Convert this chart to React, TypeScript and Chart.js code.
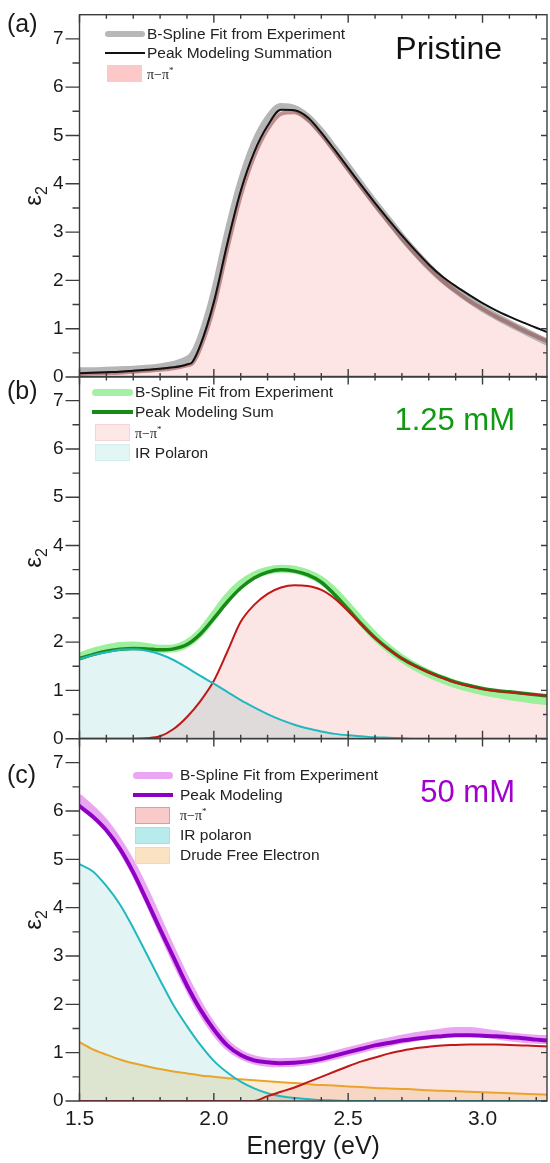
import React, { useEffect, useRef } from 'react';
import { Chart, registerables } from 'chart.js';

Chart.register(...registerables);

const FONT = "'Liberation Sans', Arial, sans-serif";
Chart.defaults.font.family = FONT;

const X_MIN = 1.5;
const X_MAX = 3.24;
const Y_MIN = 0;
const Y_MAX = 7.5;

const xTickLabels = ['1.5', '2.0', '2.5', '3.0'];
const yTickLabels = ['0', '1', '2', '3', '4', '5', '6', '7'];
const xTickPositions = [1.5, 1.6, 1.7, 1.8, 1.9, 2.0, 2.1, 2.2, 2.3, 2.4, 2.5, 2.6, 2.7, 2.8, 2.9, 3.0, 3.1, 3.2];
const yTickPositions = [0, 0.5, 1, 1.5, 2, 2.5, 3, 3.5, 4, 4.5, 5, 5.5, 6, 6.5, 7];

// ---------- Panel (a): Pristine ----------
const energyA = [1.5, 1.55, 1.6, 1.65, 1.7, 1.75, 1.8, 1.85, 1.9, 1.92, 1.95, 2.0, 2.05, 2.1, 2.15, 2.2, 2.25, 2.3, 2.35, 2.4, 2.45, 2.5, 2.55, 2.6, 2.65, 2.7, 2.75, 2.8, 2.85, 2.9, 2.95, 3.0, 3.05, 3.1, 3.15, 3.2, 3.24];
const bsplineA = [0.13, 0.13, 0.14, 0.15, 0.16, 0.18, 0.21, 0.26, 0.36, 0.45, 0.8, 1.72, 2.95, 4.02, 4.82, 5.34, 5.6, 5.56, 5.38, 5.08, 4.72, 4.35, 3.97, 3.6, 3.25, 2.9, 2.58, 2.28, 2.02, 1.8, 1.6, 1.42, 1.26, 1.11, 0.97, 0.83, 0.72];
const summationA = [0.08, 0.09, 0.1, 0.11, 0.13, 0.15, 0.17, 0.2, 0.26, 0.31, 0.66, 1.55, 2.76, 3.85, 4.65, 5.2, 5.53, 5.52, 5.37, 5.06, 4.7, 4.33, 3.96, 3.6, 3.26, 2.93, 2.62, 2.33, 2.08, 1.88, 1.7, 1.53, 1.38, 1.25, 1.13, 1.02, 0.93];
const piA = [0.06, 0.07, 0.08, 0.09, 0.11, 0.13, 0.15, 0.18, 0.24, 0.28, 0.6, 1.45, 2.65, 3.75, 4.57, 5.13, 5.45, 5.48, 5.32, 5.02, 4.66, 4.29, 3.92, 3.56, 3.21, 2.87, 2.55, 2.26, 2.0, 1.78, 1.58, 1.41, 1.25, 1.11, 0.97, 0.84, 0.74];

// ---------- Panels (b) and (c) share an energy grid ----------
const energyBC = [1.5, 1.55, 1.6, 1.65, 1.7, 1.75, 1.8, 1.85, 1.9, 1.95, 2.0, 2.05, 2.1, 2.15, 2.2, 2.25, 2.3, 2.35, 2.4, 2.45, 2.5, 2.55, 2.6, 2.65, 2.7, 2.75, 2.8, 2.85, 2.9, 2.95, 3.0, 3.05, 3.1, 3.15, 3.2, 3.24];

// (b) 1.25 mM
const bsplineB = [1.7, 1.8, 1.87, 1.92, 1.93, 1.9, 1.86, 1.87, 1.97, 2.2, 2.55, 2.92, 3.2, 3.38, 3.48, 3.52, 3.5, 3.42, 3.28, 3.04, 2.74, 2.42, 2.12, 1.87, 1.66, 1.49, 1.35, 1.23, 1.13, 1.05, 0.98, 0.93, 0.88, 0.84, 0.8, 0.78];
const sumB = [1.66, 1.74, 1.81, 1.85, 1.87, 1.86, 1.84, 1.86, 1.95, 2.17, 2.49, 2.83, 3.12, 3.33, 3.45, 3.5, 3.47, 3.39, 3.24, 2.98, 2.68, 2.37, 2.09, 1.86, 1.66, 1.51, 1.38, 1.27, 1.17, 1.1, 1.04, 1.0, 0.97, 0.94, 0.91, 0.89];
const piB = [0, 0, 0, 0, 0, 0.01, 0.05, 0.2, 0.45, 0.78, 1.2, 1.8, 2.42, 2.77, 3.0, 3.13, 3.18, 3.16, 3.08, 2.9, 2.64, 2.36, 2.08, 1.85, 1.66, 1.5, 1.37, 1.26, 1.16, 1.09, 1.03, 0.99, 0.96, 0.93, 0.91, 0.89];
const polaronB = [1.65, 1.73, 1.79, 1.84, 1.85, 1.82, 1.75, 1.63, 1.47, 1.3, 1.14, 0.97, 0.8, 0.65, 0.51, 0.39, 0.29, 0.21, 0.15, 0.1, 0.07, 0.05, 0.03, 0.02, 0.01, 0, 0, 0, 0, 0, 0, 0, 0, 0, 0, 0];

// (c) 50 mM
const bsplineC = [6.25, 6.0, 5.7, 5.3, 4.82, 4.25, 3.63, 3.02, 2.44, 1.92, 1.49, 1.16, 0.96, 0.85, 0.8, 0.79, 0.8, 0.83, 0.88, 0.95, 1.02, 1.09, 1.16, 1.22, 1.28, 1.33, 1.37, 1.41, 1.44, 1.44, 1.41, 1.37, 1.33, 1.3, 1.28, 1.27];
const sumC = [6.1, 5.88, 5.6, 5.22, 4.73, 4.15, 3.55, 2.97, 2.39, 1.89, 1.48, 1.15, 0.95, 0.84, 0.8, 0.78, 0.79, 0.82, 0.87, 0.94, 1.01, 1.08, 1.15, 1.2, 1.25, 1.29, 1.32, 1.34, 1.36, 1.36, 1.35, 1.34, 1.32, 1.3, 1.27, 1.25];
const piC = [0, 0, 0, 0, 0, 0, 0, 0, 0, 0, 0, 0, 0, 0, 0.1, 0.19, 0.28, 0.39, 0.5, 0.61, 0.72, 0.82, 0.9, 0.98, 1.04, 1.09, 1.12, 1.15, 1.16, 1.17, 1.17, 1.17, 1.16, 1.15, 1.14, 1.13];
const polaronC = [4.9, 4.75, 4.45, 4.07, 3.58, 3.04, 2.5, 1.98, 1.55, 1.16, 0.83, 0.59, 0.4, 0.26, 0.16, 0.1, 0.06, 0.04, 0.02, 0.01, 0, 0, 0, 0, 0, 0, 0, 0, 0, 0, 0, 0, 0, 0, 0, 0];
const drudeC = [1.22, 1.07, 0.96, 0.86, 0.78, 0.72, 0.66, 0.61, 0.57, 0.53, 0.5, 0.47, 0.45, 0.43, 0.41, 0.39, 0.37, 0.35, 0.33, 0.32, 0.3, 0.29, 0.27, 0.26, 0.25, 0.24, 0.22, 0.21, 0.2, 0.19, 0.18, 0.17, 0.16, 0.15, 0.14, 0.13];

const AXIS_COLOR = '#3c3c3c';
const TEXT_COLOR = '#1a1a1a';

const zip = (xs: number[], ys: number[]) => xs.map((x, i) => ({ x, y: ys[i] }));

function series(label: string, xs: number[], ys: number[], color: string, width: number, fillColor?: string) {
  return {
    label,
    data: zip(xs, ys),
    borderColor: color,
    borderWidth: width,
    backgroundColor: fillColor ?? 'transparent',
    fill: fillColor ? 'origin' : false,
    pointRadius: 0,
    cubicInterpolationMode: 'monotone',
    borderCapStyle: 'round',
    borderJoinStyle: 'round',
  };
}

const near = (a: number, b: number) => Math.abs(a - b) < 1e-6;

// Fills are drawn by the filler plugin in its beforeDatasetsDraw hook (runs before this
// local plugin's hook). Multiply blending is active only while fills are painted.
const framePlugin = {
  id: 'frame',
  beforeDraw(chart: any) {
    const { ctx } = chart;
    ctx.save();
    ctx.globalCompositeOperation = 'multiply';
  },
  beforeDatasetsDraw(chart: any) {
    chart.ctx.restore();
  },
  afterDatasetsDraw(chart: any) {
    const { ctx, chartArea } = chart;
    const { left, right, top, bottom } = chartArea;
    const xs = chart.scales.x;
    const ys = chart.scales.y;
    ctx.save();
    ctx.strokeStyle = AXIS_COLOR;
    ctx.lineWidth = 1.4;
    ctx.strokeRect(left, top, right - left, bottom - top);
    ctx.beginPath();
    for (const v of xTickPositions) {
      const px = xs.getPixelForValue(v);
      const major = xTickLabels.some((l) => near(parseFloat(l), v));
      const len = major ? 8 : 4;
      ctx.moveTo(px, bottom);
      ctx.lineTo(px, bottom - len);
      ctx.moveTo(px, top);
      ctx.lineTo(px, top + len);
    }
    for (const v of yTickPositions) {
      const py = ys.getPixelForValue(v);
      const major = yTickLabels.some((l) => near(parseFloat(l), v));
      ctx.moveTo(left - (major ? 14 : 7), py);
      ctx.lineTo(left, py);
      ctx.moveTo(right, py);
      ctx.lineTo(right - (major ? 6 : 4), py);
    }
    ctx.stroke();
    ctx.restore();
  },
};

const CANVAS_W = 554;

type PanelProps = {
  top: number;
  height: number;
  padTop: number;
  padBottom: number;
  showX: boolean;
  datasets: any[];
};

function Panel({ top, height, padTop, padBottom, showX, datasets }: PanelProps) {
  const ref = useRef<HTMLCanvasElement>(null);
  useEffect(() => {
    const chart = new Chart(ref.current as HTMLCanvasElement, {
      type: 'line',
      data: { datasets },
      options: {
        animation: false,
        responsive: false,
        maintainAspectRatio: false,
        events: [],
        layout: { padding: { top: padTop, bottom: padBottom, left: 0, right: 7 } },
        plugins: {
          legend: { display: false },
          tooltip: { enabled: false },
          filler: { drawTime: 'beforeDatasetsDraw' },
        },
        elements: { point: { radius: 0 } },
        scales: {
          x: {
            type: 'linear',
            min: X_MIN,
            max: X_MAX,
            display: showX,
            grid: { display: false, drawTicks: false },
            border: { display: false },
            ticks: {
              stepSize: 0.1,
              autoSkip: false,
              maxRotation: 0,
              minRotation: 0,
              padding: 6,
              color: TEXT_COLOR,
              font: { size: 21 },
              callback: (v: any) => xTickLabels.find((l) => near(parseFloat(l), Number(v))) ?? '',
            },
            title: {
              display: showX,
              text: 'Energy (eV)',
              color: TEXT_COLOR,
              font: { size: 25 },
              padding: { top: 0, bottom: 1 },
            },
            afterFit: (s: any) => {
              s.height = showX ? 62 : 0;
            },
          },
          y: {
            type: 'linear',
            min: Y_MIN,
            max: Y_MAX,
            grid: { display: false, drawTicks: false },
            border: { display: false },
            ticks: {
              stepSize: 0.5,
              autoSkip: false,
              padding: 16,
              color: TEXT_COLOR,
              font: { size: 19 },
              callback: (v: any) => yTickLabels.find((l) => near(parseFloat(l), Number(v))) ?? '',
            },
            afterFit: (s: any) => {
              s.width = 79.5;
            },
          },
        },
      } as any,
      plugins: [framePlugin],
    });
    return () => chart.destroy();
  }, []);
  return (
    <canvas
      ref={ref}
      width={CANVAS_W}
      height={height}
      style={{ position: 'absolute', left: 0, top, width: CANVAS_W, height, display: 'block' }}
    />
  );
}

type LegendRow =
  | { kind: 'line'; color: string; width: number; y: number; label: React.ReactNode; round?: boolean }
  | { kind: 'box'; color: string; border?: string; y: number; label: React.ReactNode };

function Legend({ rows, swX1, swX2, boxX1, boxX2, textX }: { rows: LegendRow[]; swX1: number; swX2: number; boxX1: number; boxX2: number; textX: number }) {
  return (
    <>
      {rows.map((r, i) => (
        <React.Fragment key={i}>
          {r.kind === 'line' ? (
            <div
              style={{
                position: 'absolute',
                left: swX1,
                top: r.y - r.width / 2,
                width: swX2 - swX1,
                height: r.width,
                background: r.color,
                borderRadius: r.round ? r.width / 2 : 0,
              }}
            />
          ) : (
            <div
              style={{
                position: 'absolute',
                left: boxX1,
                top: r.y - 8.5,
                width: boxX2 - boxX1,
                height: 17,
                boxSizing: 'border-box',
                background: r.color,
                border: r.border ? `1px solid ${r.border}` : 'none',
              }}
            />
          )}
          <div
            style={{
              position: 'absolute',
              left: textX,
              top: r.y - 10,
              height: 20,
              lineHeight: '20px',
              fontSize: 15.5,
              fontFamily: FONT,
              color: '#222',
              whiteSpace: 'nowrap',
            }}
          >
            {r.label}
          </div>
        </React.Fragment>
      ))}
    </>
  );
}

const PiLabel = () => (
  <span style={{ fontFamily: "'Liberation Serif', 'Times New Roman', serif", fontSize: 14 }}>
    π−π<sup style={{ fontSize: 9, verticalAlign: 'super', lineHeight: 0 }}>*</sup>
  </span>
);

function YTitle({ cy }: { cy: number }) {
  return (
    <div
      style={{
        position: 'absolute',
        left: 33,
        top: cy,
        transform: 'translate(-50%, -50%) rotate(-90deg)',
        fontFamily: FONT,
        fontSize: 24,
        color: TEXT_COLOR,
        whiteSpace: 'nowrap',
        lineHeight: 1,
      }}
    >
      ε<sub style={{ fontSize: 16, verticalAlign: 'sub', lineHeight: 0 }}>2</sub>
    </div>
  );
}

function TextLabel({ text, left, right, top, size, color }: { text: string; left?: number; right?: number; top: number; size: number; color: string }) {
  return (
    <div
      style={{
        position: 'absolute',
        left,
        right,
        top,
        fontFamily: FONT,
        fontSize: size,
        lineHeight: 1,
        color,
        whiteSpace: 'nowrap',
      }}
    >
      {text}
    </div>
  );
}

const PINK_FILL = 'rgba(245,170,170,0.3)';
const CYAN_FILL = 'rgba(140,210,210,0.25)';
const DRUDE_FILL = 'rgba(240,200,130,0.3)';

export default function App() {
  const dsA = [
    series('Peak Modeling Summation', energyA, summationA, '#111111', 2),
    series('π−π*', energyA, piA, 'rgba(150,80,80,0.6)', 4, 'rgba(248,175,175,0.32)'),
    series('B-Spline Fit from Experiment', energyA, bsplineA, '#b5b5b5', 7),
  ];
  const dsB = [
    series('IR Polaron', energyBC, polaronB, '#22b8bf', 2, CYAN_FILL),
    series('π−π*', energyBC, piB, '#c01818', 2, PINK_FILL),
    series('Peak Modeling Sum', energyBC, sumB, '#178a17', 3.5),
    series('B-Spline Fit from Experiment', energyBC, bsplineB, '#9cf09c', 8),
  ];
  const dsC = [
    series('Peak Modeling', energyBC, sumC, '#8e00c4', 4),
    series('π−π*', energyBC, piC, '#c01818', 2, PINK_FILL),
    series('IR polaron', energyBC, polaronC, '#22b8bf', 2, CYAN_FILL),
    series('Drude Free Electron', energyBC, drudeC, '#e8a52a', 2, DRUDE_FILL),
    series('B-Spline Fit from Experiment', energyBC, bsplineC, '#eaa6f2', 9),
  ];

  return (
    <div style={{ position: 'relative', width: 550, height: 1163, background: '#fff', overflow: 'hidden' }}>
      <style>{'body{margin:0;background:#fff;}'}</style>
      {/* chartArea: (a) 14.7..377, (b) 376.5..738.7, (c) 738.5..1101 */}
      <Panel top={-15} height={422} padTop={29.7} padBottom={30} showX={false} datasets={dsA} />
      <Panel top={346} height={423} padTop={30.5} padBottom={30.3} showX={false} datasets={dsB} />
      <Panel top={708} height={455} padTop={30.5} padBottom={0} showX={true} datasets={dsC} />

      {/* panel labels */}
      <TextLabel text="(a)" left={7} top={11} size={25} color={TEXT_COLOR} />
      <TextLabel text="(b)" left={7} top={378} size={25} color={TEXT_COLOR} />
      <TextLabel text="(c)" left={7} top={762} size={25} color={TEXT_COLOR} />

      <YTitle cy={196} />
      <YTitle cy={558} />
      <YTitle cy={920} />

      <TextLabel text="Pristine" right={48} top={32} size={32} color="#111111" />
      <TextLabel text="1.25 mM" right={35} top={404} size={31} color="#119a11" />
      <TextLabel text="50 mM" right={35} top={776} size={31} color="#a200cc" />

      <Legend
        swX1={105}
        swX2={145}
        boxX1={107}
        boxX2={142}
        textX={147}
        rows={[
          { kind: 'line', color: '#b8b8b8', width: 6, y: 34, label: 'B-Spline Fit from Experiment', round: true },
          { kind: 'line', color: '#111111', width: 2, y: 52.5, label: 'Peak Modeling Summation' },
          { kind: 'box', color: '#fcc8c8', y: 73.5, label: <PiLabel /> },
        ]}
      />
      <Legend
        swX1={92}
        swX2={133}
        boxX1={95}
        boxX2={130}
        textX={135}
        rows={[
          { kind: 'line', color: '#a4f0a4', width: 7, y: 392, label: 'B-Spline Fit from Experiment', round: true },
          { kind: 'line', color: '#178a17', width: 3.5, y: 412, label: 'Peak Modeling Sum' },
          { kind: 'box', color: '#fde8e8', border: '#f4d4d4', y: 432.5, label: <PiLabel /> },
          { kind: 'box', color: '#e2f6f6', border: '#d4eeee', y: 452.5, label: 'IR Polaron' },
        ]}
      />
      <Legend
        swX1={133}
        swX2={173}
        boxX1={135}
        boxX2={170}
        textX={180}
        rows={[
          { kind: 'line', color: '#eaa6f2', width: 7, y: 775, label: 'B-Spline Fit from Experiment', round: true },
          { kind: 'line', color: '#8e00c4', width: 3.5, y: 795, label: 'Peak Modeling' },
          { kind: 'box', color: '#f8caca', border: '#e49a9a', y: 815, label: <PiLabel /> },
          { kind: 'box', color: '#b8ecec', border: '#a6e2e2', y: 835, label: 'IR polaron' },
          { kind: 'box', color: '#fbe2c2', border: '#f4d8b4', y: 855, label: 'Drude Free Electron' },
        ]}
      />
    </div>
  );
}
